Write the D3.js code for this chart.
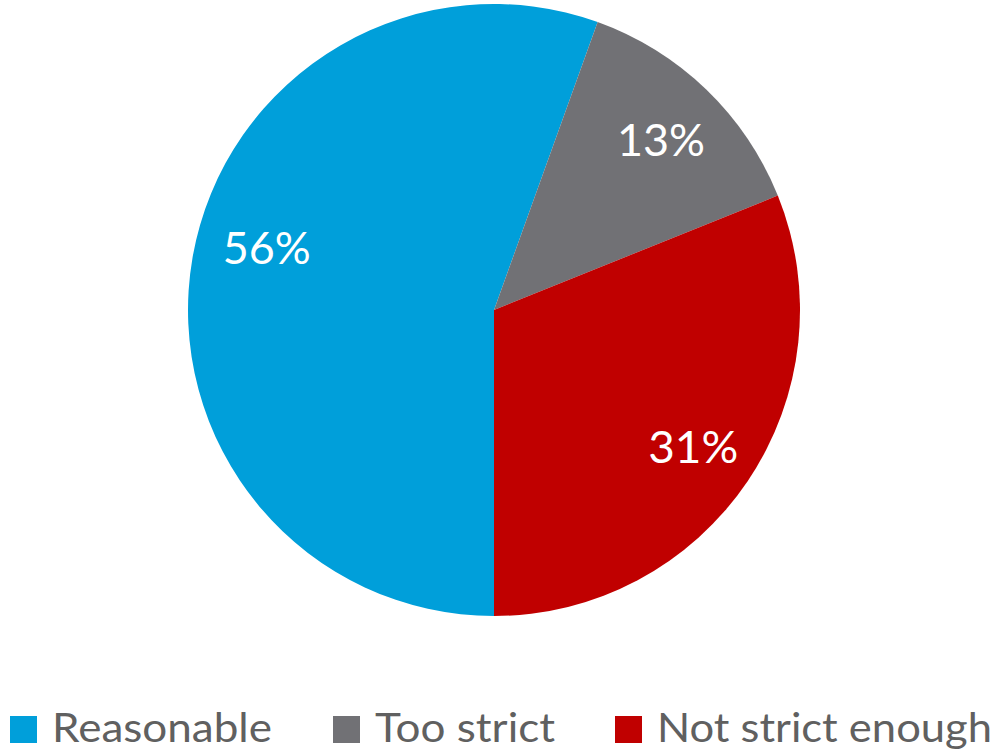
<!DOCTYPE html>
<html><head><meta charset="utf-8">
<script src="https://cdn.jsdelivr.net/npm/d3@7"></script>
<style>body{margin:0;background:#fff}svg{display:block}</style>
</head><body>
<svg id="chart" width="995" height="752"></svg>
<script>
const categories = ["Reasonable", "Too strict", "Not strict enough"];
const values = [55.5, 13.4, 31.1];
const labels = ["56%", "13%", "31%"];
const colors = ["#009FDA", "#717175", "#C00000"];

const svg = d3.select("#chart");
const cx = 494, cy = 310, R = 306;
const font = "Lato, 'Open Sans', sans-serif";

const pie = d3.pie().sort(null).value(d => d)
  .startAngle(Math.PI).endAngle(3 * Math.PI);
const arcs = pie(values);
const arc = d3.arc().innerRadius(0).outerRadius(R);

// label placement (layout only): radius fraction and angle nudge per slice
const labelR = [0.77, 0.78, 0.79];
const labelNudge = [5.5, 0.5, 0.5]; // degrees

const g = svg.append("g").attr("transform", `translate(${cx},${cy})`);
g.selectAll("path").data(arcs).join("path")
  .attr("d", arc).attr("fill", (d, i) => colors[i]);

const lblW = [88, 88, 90];
g.selectAll("text").data(arcs).join("text")
  .attr("transform", (d, i) => {
    const a = (d.startAngle + d.endAngle) / 2 + labelNudge[i] * Math.PI / 180;
    const r = R * labelR[i];
    return `translate(${r * Math.sin(a)},${-r * Math.cos(a)})`;
  })
  .attr("text-anchor", "middle").attr("dy", "0.36em")
  .attr("fill", "#fff").attr("font-family", font).attr("font-size", 45)
  .attr("textLength", (d, i) => lblW[i]).attr("lengthAdjust", "spacingAndGlyphs")
  .text((d, i) => labels[i]);

// legend
const legX = [10, 333, 615];
const legW = [220, 180, 335];
const lg = svg.append("g");
categories.forEach((c, i) => {
  lg.append("rect").attr("x", legX[i]).attr("y", 716).attr("width", 27).attr("height", 27)
    .attr("fill", colors[i]);
  lg.append("text").attr("x", legX[i] + 42).attr("y", 742)
    .attr("fill", "#606060").attr("font-family", font).attr("font-size", 41)
    .attr("textLength", legW[i]).attr("lengthAdjust", "spacingAndGlyphs")
    .text(c);
});
</script>
</body></html>
